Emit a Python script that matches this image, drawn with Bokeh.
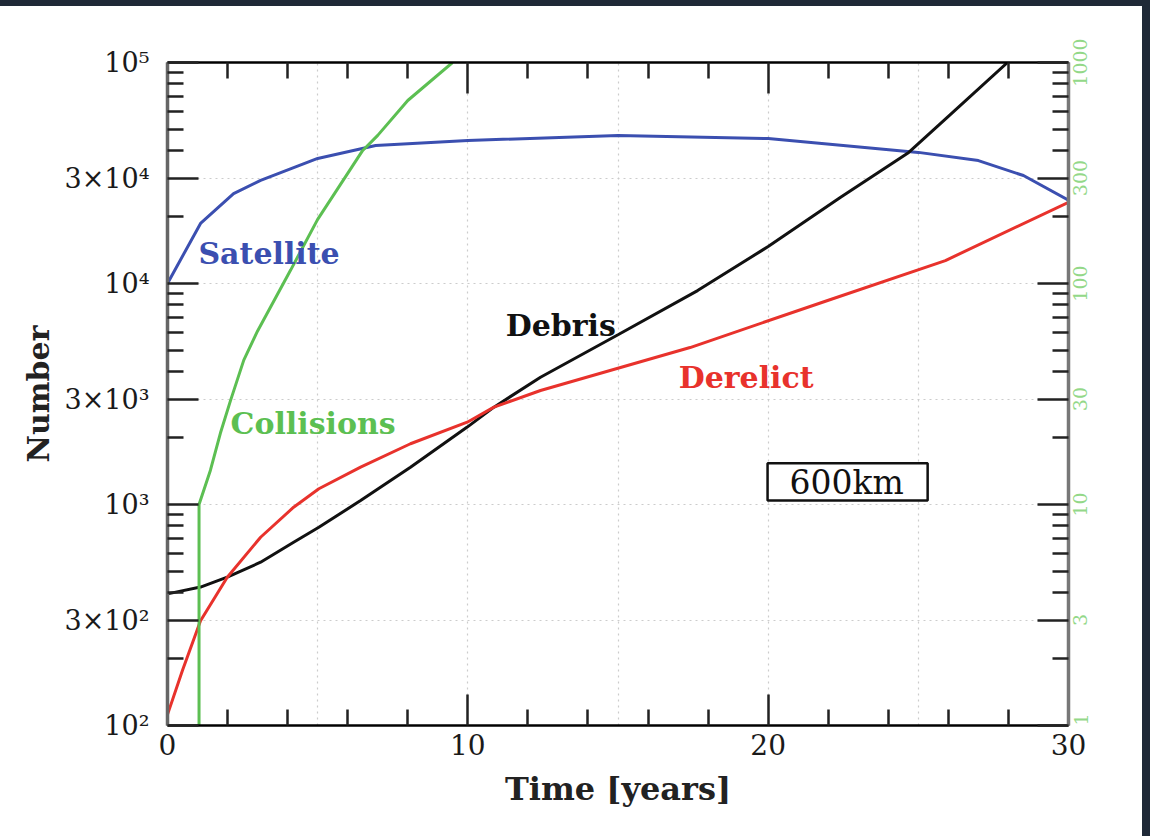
import json, math
from bokeh.plotting import figure
from bokeh.models import (Range1d, LogAxis, LinearAxis, FixedTicker, CustomJSTickFormatter,
                          Label, BoxAnnotation, LogScale, Grid, Div)
from bokeh.layouts import column, row
from bokeh.embed import file_html
from bokeh.resources import INLINE

# ---------------- data ----------------
sat_years = [0, 1.1, 2.2, 3.1, 5.0, 6.93, 10, 15, 20, 25, 27, 28.5, 30]
satellite = [10000, 18700, 25500, 29300, 36800, 42100, 44400, 46700, 45300, 39200, 36000, 30800, 23800]

deb_years = [0, 1.1, 1.99, 3.1, 4.2, 5.04, 6.43, 8.09, 9.98, 10.87, 12.42, 15, 17.65, 20, 22.4, 24.68, 26.0, 27.97]
debris = [394, 423, 469, 548, 675, 789, 1042, 1475, 2240, 2757, 3765, 5860, 9290, 14700, 24500, 39200, 57000, 100000]

der_years = [0, 0.5, 1.1, 1.99, 3.1, 4.2, 5.04, 6.43, 8.09, 9.98, 10.87, 12.42, 17.4, 21.98, 25.9, 30]
derelict = [112, 178, 298, 469, 711, 972, 1178, 1475, 1883, 2357, 2757, 3280, 5130, 8380, 12700, 23300]

col_years = [1.05, 1.05, 1.43, 1.76, 2.1, 2.54, 3.0, 4.1, 5.0, 6.5, 7.0, 8.0, 9.49]
collisions = [1, 10, 14.3, 21, 29.6, 45, 61, 115, 195, 400, 468, 673, 1000]

left_ticks = [100, 300, 1000, 3000, 10000, 30000, 100000]
left_labels = ["10²", "3×10²", "10³", "3×10³", "10⁴", "3×10⁴", "10⁵"]
right_ticks = [1, 3, 10, 30, 100, 300, 1000]
right_labels = ["1", "3", "10", "30", "100", "300", "1000"]
x_ticks = [0, 10, 20, 30]
x_labels = ["0", "10", "20", "30"]

texts = ["Satellite", "Debris", "Derelict", "Collisions"]
text_x = [1.03, 11.26, 17.02, 2.1]
text_y = [13680, 6460, 3760, 2330]
text_colors = ["#3b4fb0", "#111111", "#e8322c", "#5cbf52"]

# ---------------- figure ----------------
SERIF = "DejaVu Serif"
W, H = 1142, 830
FRAME_H = 663  # px of the plot frame (3 decades)
p = figure(width=W, height=H, x_range=Range1d(0, 30), y_range=Range1d(100, 1e5),
           y_axis_type="log", output_backend="svg", toolbar_location=None,
           min_border_left=167, min_border_right=W - 1068, min_border_top=56,
           min_border_bottom=H - 719, x_axis_type=None)
p.extra_y_ranges = {"right": Range1d(1, 1000)}
p.extra_y_scales = {"right": LogScale()}
p.outline_line_color = None
p.background_fill_color = "white"
p.border_fill_color = "white"

def mapping_formatter(ticks, labels):
    m = {str(int(t)): l for t, l in zip(ticks, labels)}
    return CustomJSTickFormatter(code="const m = %s; const k = String(Math.round(tick)); return (k in m) ? m[k] : '';" % json.dumps(m))

def decade_minors(lo, hi):
    out = []
    d = lo
    while d < hi:
        out += [d * k for k in (2, 4, 5, 6, 7, 8, 9)]
        d *= 10
    return out

def style_axis(ax, line_w=2.5, line_col="black"):
    ax.major_tick_in = 31
    ax.major_tick_out = 0
    ax.minor_tick_in = 16
    ax.minor_tick_out = 0
    ax.major_tick_line_width = 2.5
    ax.minor_tick_line_width = 2.5
    ax.major_tick_line_color = "#222222"
    ax.minor_tick_line_color = "#222222"
    ax.axis_line_width = line_w
    ax.axis_line_color = line_col

for g in list(p.ygrid):
    g.visible = False

# left axis
la = p.yaxis[0]
la.ticker = FixedTicker(ticks=left_ticks, minor_ticks=decade_minors(100, 1e5))
la.formatter = mapping_formatter(left_ticks, left_labels)
style_axis(la, 3.5, "#666666")
la.major_label_text_font = SERIF
la.major_label_text_font_size = "27px"
la.major_label_text_color = "#1a1a1a"
la.major_label_standoff = 18
la.axis_label = "Number"
la.axis_label_text_font = SERIF
la.axis_label_text_font_size = "30px"
la.axis_label_text_font_style = "bold"
la.axis_label_text_color = "#222222"
la.axis_label_standoff = 6

# right axis (collisions scale): ticks only
ra = LogAxis(y_range_name="right")
ra.ticker = FixedTicker(ticks=right_ticks, minor_ticks=decade_minors(1, 1000))
ra.formatter = CustomJSTickFormatter(code="return '';")
style_axis(ra, 3.5, "#777777")
ra.major_label_text_font_size = "1px"
ra.major_label_standoff = 0
p.add_layout(ra, "right")

# right axis labels: rotated text (reading upward) centred on each tick.
# Bokeh starts rotated labels at the tick, so the anchor is moved down by half the text length.
RFONT = 19
char_w = 0.636 * RFONT
px_per_decade = FRAME_H / 3.0
anchors = [max(1.0, t * 10 ** (-(len(l) * char_w / 2.0) / px_per_decade))
           for t, l in zip(right_ticks, right_labels)]
rl = LogAxis(y_range_name="right")
rl.ticker = FixedTicker(ticks=anchors, minor_ticks=[])
rl.formatter = CustomJSTickFormatter(
    args=dict(vals=anchors, labels=right_labels),
    code="let b=0, bd=1e9; for (let i=0;i<vals.length;i++){const d=Math.abs(Math.log10(tick)-Math.log10(vals[i])); if(d<bd){bd=d;b=i}} return labels[b];")
rl.axis_line_color = None
rl.major_tick_line_color = None
rl.minor_tick_line_color = None
rl.major_tick_in = 0
rl.major_tick_out = 0
rl.minor_tick_in = 0
rl.minor_tick_out = 0
rl.major_label_orientation = math.pi / 2
rl.major_label_standoff = 12
rl.major_label_text_font = SERIF
rl.major_label_text_font_size = "%dpx" % RFONT
rl.major_label_text_color = "#93d888"
p.add_layout(rl, "right")

# bottom axis
ba = LinearAxis()
ba.ticker = FixedTicker(ticks=x_ticks, minor_ticks=[v for v in range(2, 30, 2) if v % 10])
ba.formatter = mapping_formatter(x_ticks, x_labels)
style_axis(ba)
ba.major_label_text_font = SERIF
ba.major_label_text_font_size = "28px"
ba.major_label_text_color = "#1a1a1a"
ba.major_label_standoff = 8
ba.axis_label = "Time [years]"
ba.axis_label_text_font = SERIF
ba.axis_label_text_font_size = "32px"
ba.axis_label_text_font_style = "bold"
ba.axis_label_text_color = "#222222"
ba.axis_label_standoff = 12
p.add_layout(ba, "below")

# top axis (ticks only)
ta = LinearAxis()
ta.ticker = FixedTicker(ticks=x_ticks, minor_ticks=[v for v in range(2, 30, 2) if v % 10])
ta.formatter = CustomJSTickFormatter(code="return '';")
style_axis(ta)
ta.major_label_text_font_size = "1px"
p.add_layout(ta, "above")

# grids
xg = Grid(dimension=0, ticker=FixedTicker(ticks=[5, 10, 15, 20, 25]))
yg = Grid(dimension=1, ticker=FixedTicker(ticks=[300, 1000, 3000, 10000, 30000]))
for g in (xg, yg):
    g.grid_line_color = "#cccccc"
    g.grid_line_dash = "2 4"
    g.grid_line_width = 1.2
    p.add_layout(g, "center")

# box behind "600km"
p.add_layout(BoxAnnotation(left=19.98, right=25.31, bottom=1042, top=1535,
                           fill_color="white", fill_alpha=1.0,
                           line_color="#111111", line_alpha=1.0, line_width=2.5,
                           level="overlay"))

# curves
p.line(sat_years, satellite, line_color="#3b4fb0", line_width=3)
p.line(deb_years, debris, line_color="#111111", line_width=3)
p.line(der_years, derelict, line_color="#e8322c", line_width=3)
p.line(col_years, collisions, line_color="#5cbf52", line_width=3, y_range_name="right")

# curve labels
for t, x, y, c in zip(texts, text_x, text_y, text_colors):
    p.add_layout(Label(x=x, y=y, text=t, text_color=c, text_font=SERIF,
                       text_font_size="30px", text_font_style="bold",
                       text_baseline="alphabetic", text_align="left"))

p.add_layout(Label(x=22.61, y=1259, text="600km", text_color="#111111", text_font=SERIF,
                   text_font_size="33px", text_baseline="middle", text_align="center",
                   level="overlay"))

# dark frame strips of the screenshot (top and right)
DARK = "#1f2937"
top_strip = Div(width=1150, height=6, margin=0, styles={"background-color": DARK})
right_strip = Div(width=8, height=H, margin=0, styles={"background-color": DARK})
layout = column(top_strip, row(p, right_strip, spacing=0), spacing=0)

open("out.html", "w").write(file_html(layout, INLINE))
